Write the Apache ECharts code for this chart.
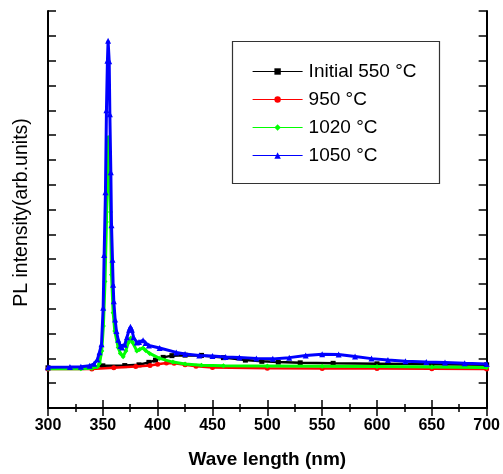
<!DOCTYPE html>
<html>
<head>
<meta charset="utf-8">
<script src="https://cdn.jsdelivr.net/npm/echarts@6/dist/echarts.min.js"></script>
<style>
  html, body { margin: 0; padding: 0; background: #fff; }
  #chart { width: 503px; height: 474px; }
</style>
</head>
<body>
<div id="chart"></div>
<script>
// PL spectra of the samples annealed at different temperatures
const seriesNames = ['Initial 550 \u00B0C', '950 \u00B0C', '1020 \u00B0C', '1050 \u00B0C'];
const seriesColors = ['#000000', '#ff0000', '#00ff00', '#0000ff'];
const seriesSymbols = ['rect', 'circle', 'diamond', 'triangle'];

// [wavelength (nm), intensity (arb. units)]
const initial550 = [
  [300, 1.62], [340, 1.65], [350, 1.70], [370, 1.71], [383, 1.74], [392, 1.84],
  [398, 1.93], [405, 2.04], [413, 2.11], [425, 2.13], [440, 2.12], [460, 2.03],
  [480, 1.93], [495, 1.88], [510, 1.85], [530, 1.82], [560, 1.80], [600, 1.78],
  [650, 1.76], [700, 1.74]
];
const t950 = [
  [300, 1.57], [340, 1.57], [360, 1.62], [380, 1.67], [393, 1.71], [400, 1.76],
  [408, 1.81], [415, 1.80], [425, 1.74], [435, 1.68], [450, 1.63], [500, 1.60],
  [550, 1.59], [600, 1.59], [650, 1.58], [700, 1.57]
];
const t1020 = [
  [300, 1.58], [330, 1.58], [340, 1.60], [345, 1.66], [347, 1.80], [349, 2.30],
  [350.5, 3.30], [352, 5.10], [353.3, 7.50], [354.2, 10.6], [354.8, 10.9],
  [355.8, 9.50], [357, 7.90], [357.9, 5.37], [359.4, 3.84], [360.9, 3.10],
  [364, 2.44], [366, 2.20], [368.5, 2.07], [371, 2.30], [373, 2.62], [375.5, 2.82],
  [377, 2.65], [381, 2.30], [383.5, 2.36], [386.7, 2.42], [389, 2.32], [392.7, 2.20],
  [401.8, 2.00], [413.9, 1.85], [425, 1.77], [440, 1.72], [460, 1.70], [500, 1.69],
  [550, 1.68], [600, 1.67], [650, 1.65], [700, 1.63]
];
const t1050 = [
  [300, 1.64], [320, 1.65], [330, 1.66], [338, 1.70], [342, 1.78], [345, 1.95],
  [347, 2.25], [348.8, 2.57], [350.3, 4.04], [351.2, 6.17], [352.4, 8.70],
  [353.3, 12.0], [354.2, 14.0], [354.8, 14.8], [355.8, 13.97], [356.4, 11.84],
  [357.3, 9.50], [357.9, 7.37], [358.8, 5.97], [359.4, 4.97], [360, 4.30],
  [361.2, 3.57], [362.4, 3.10], [364, 2.75], [366, 2.50], [367.5, 2.44],
  [370, 2.55], [372, 2.85], [374, 3.15], [375.2, 3.27], [376.5, 3.15], [378, 2.85],
  [381, 2.64], [383, 2.66], [386.7, 2.73], [389, 2.62], [392, 2.52], [401.8, 2.42],
  [417, 2.24], [425, 2.18], [438, 2.12], [450, 2.10], [462, 2.06], [474.5, 2.04],
  [490, 2.00], [505, 1.98], [520, 2.03], [535, 2.12], [550, 2.17], [565, 2.16],
  [580, 2.08], [595, 1.99], [610, 1.93], [626, 1.88], [645, 1.85], [662, 1.83],
  [680, 1.80], [700, 1.77]
];
const seriesData = [initial550, t950, t1020, t1050];

const xTickValues = [300, 350, 400, 450, 500, 550, 600, 650, 700];

const chart = echarts.init(document.getElementById('chart'), null, { renderer: 'canvas' });

const axisLine = { show: true, lineStyle: { color: '#000', width: 2 } };
const font = 'Liberation Sans, Arial, Helvetica, sans-serif';

const option = {
  animation: false,
  backgroundColor: '#fff',
  grid: { left: 48, right: 15, top: 11, bottom: 63 },
  legend: {
    orient: 'vertical',
    left: 252,
    top: 62,
    padding: 0,
    itemWidth: 50,
    itemHeight: 8,
    itemGap: 9,
    data: seriesNames,
    textStyle: { fontFamily: font, fontSize: 19, color: '#000', padding: [0, 0, 0, 1] },
    lineStyle: { width: 1.2 },
    itemStyle: { borderWidth: 0 }
  },
  xAxis: [
    {
      type: 'value', min: xTickValues[0], max: xTickValues[xTickValues.length - 1], interval: 50,
      position: 'bottom',
      name: 'Wave length (nm)', nameLocation: 'middle', nameGap: 42,
      nameTextStyle: { fontFamily: font, fontSize: 19, fontWeight: 'bold', color: '#000' },
      axisLine: axisLine,
      axisTick: { inside: true, length: 8, lineStyle: { color: '#000', width: 1.5 } },
      minorTick: { show: true, splitNumber: 2, length: 4, lineStyle: { color: '#000', width: 1.5 } },
      axisLabel: { fontFamily: font, fontSize: 16, fontWeight: 'bold', color: '#000', margin: 10 },
      splitLine: { show: false }
    },
    {
      type: 'value', min: 300, max: 700, interval: 50, position: 'top',
      axisLine: axisLine,
      axisTick: { inside: true, length: 8, lineStyle: { color: '#000', width: 1.5 } },
      minorTick: { show: true, splitNumber: 2, length: 4, lineStyle: { color: '#000', width: 1.5 } },
      axisLabel: { show: false },
      splitLine: { show: false }
    }
  ],
  yAxis: [
    {
      type: 'value', min: 0, max: 16, interval: 1, position: 'left',
      name: 'PL intensity(arb.units)', nameLocation: 'middle', nameGap: 16,
      nameTextStyle: { fontFamily: font, fontSize: 19.5, color: '#000', padding: [0, 6, 0, 0] },
      axisLine: axisLine,
      axisTick: { inside: true, length: 8, lineStyle: { color: '#000', width: 1.5 } },
      axisLabel: { show: false },
      splitLine: { show: false }
    },
    {
      type: 'value', min: 0, max: 16, interval: 1, position: 'right',
      axisLine: axisLine,
      axisTick: { inside: true, length: 8, lineStyle: { color: '#000', width: 1.5 } },
      axisLabel: { show: false },
      splitLine: { show: false }
    }
  ],
  series: seriesNames.map((name, i) => ({
    name: name,
    type: 'line',
    xAxisIndex: 0,
    yAxisIndex: 0,
    data: seriesData[i],
    showSymbol: true,
    symbol: seriesSymbols[i],
    symbolSize: i === 3 ? 6 : 5,
    color: seriesColors[i],
    lineStyle: { color: seriesColors[i], width: i >= 2 ? 3 : 2.5 },
    itemStyle: { color: seriesColors[i] },
    z: 2 + i
  })),
  graphic: [
    {
      type: 'rect',
      shape: { x: 232.5, y: 41.5, width: 207, height: 142 },
      style: { fill: 'none', stroke: '#333', lineWidth: 1.2 },
      z: 10
    }
  ]
};

chart.setOption(option);
</script>
</body>
</html>
